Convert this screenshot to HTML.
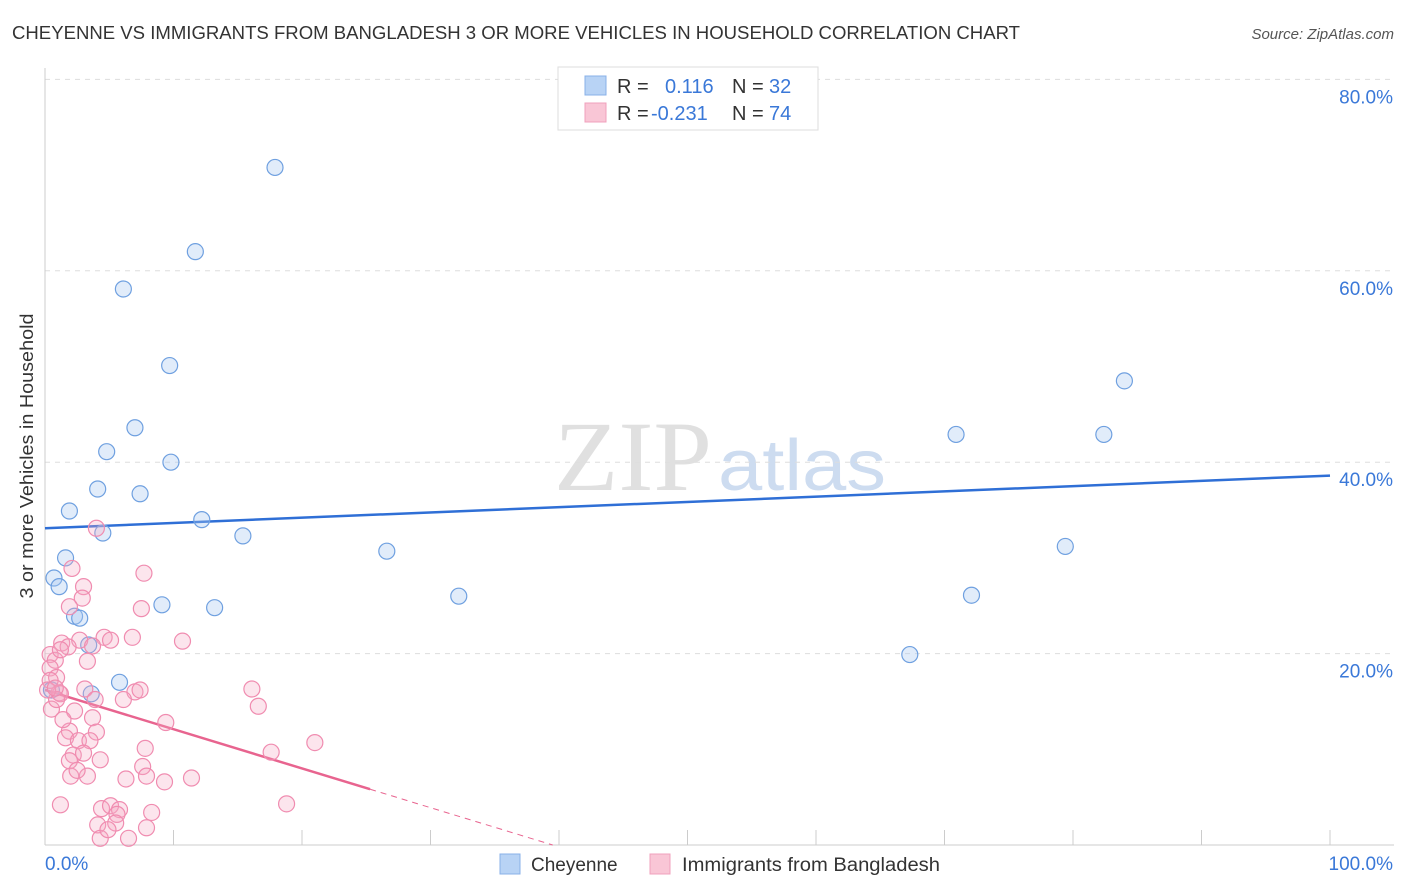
<!DOCTYPE html>
<html><head><meta charset="utf-8"><style>
body{margin:0;background:#fff;font-family:"Liberation Sans",sans-serif}
svg{display:block}
</style></head><body>
<svg id="c" width="1406" height="892" xmlns="http://www.w3.org/2000/svg">
<text x="12" y="39" font-size="18" fill="#333" textLength="1008" lengthAdjust="spacingAndGlyphs">CHEYENNE VS IMMIGRANTS FROM BANGLADESH 3 OR MORE VEHICLES IN HOUSEHOLD CORRELATION CHART</text>
<text x="1394" y="39" font-size="15" fill="#555" font-style="italic" text-anchor="end">Source: ZipAtlas.com</text>
<text x="0" y="0" transform="translate(33,456) rotate(-90)" font-size="18" fill="#333" text-anchor="middle" textLength="285" lengthAdjust="spacingAndGlyphs">3 or more Vehicles in Household</text>
<g><text x="633" y="490" font-size="100" fill="#e0e0e0" font-family="Liberation Serif,serif" text-anchor="middle" textLength="158" lengthAdjust="spacingAndGlyphs">ZIP</text><text x="802" y="490" font-size="72" fill="#cddcf0" text-anchor="middle" textLength="168" lengthAdjust="spacingAndGlyphs">atlas</text></g>
<g id="grid"></g><g id="axes"></g><g id="lines"></g><g id="pts"></g>
<g>
<rect x="558" y="67" width="260" height="63" fill="#fff" stroke="#ddd"/>
<rect x="585" y="76" width="21" height="19" fill="#b8d3f5" stroke="#88b0e8"/>
<rect x="585" y="103" width="21" height="19" fill="#f9c6d6" stroke="#f0a0bc"/>
<text x="617" y="93" font-size="20" fill="#333">R =</text><text x="665" y="93" font-size="20" fill="#3a78d8">0.116</text>
<text x="732" y="93" font-size="20" fill="#333">N =</text><text x="769" y="93" font-size="20" fill="#3a78d8">32</text>
<text x="617" y="120" font-size="20" fill="#333">R =</text><text x="651" y="120" font-size="20" fill="#3a78d8">-0.231</text>
<text x="732" y="120" font-size="20" fill="#333">N =</text><text x="769" y="120" font-size="20" fill="#3a78d8">74</text>
</g>
<g>
<rect x="500" y="854" width="20" height="20" fill="#b8d3f5" stroke="#88b0e8"/>
<text x="531" y="871" font-size="19" fill="#333">Cheyenne</text>
<rect x="650" y="854" width="20" height="20" fill="#f9c6d6" stroke="#f0a0bc"/>
<text x="682" y="871" font-size="19" fill="#333" textLength="258" lengthAdjust="spacingAndGlyphs">Immigrants from Bangladesh</text>
</g>
</svg>
<script>
const yTicks=[20,40,60,80];
const xTickLabels=["0.0%","100.0%"];
const blueX=[17.9,11.7,6.1,9.7,7.0,4.8,9.8,4.1,7.4,1.9,12.2,4.5,15.4,1.6,26.6,0.7,1.1,32.2,9.1,13.2,2.3,2.7,3.4,5.8,3.6,67.3,70.9,72.1,79.4,82.4,84.0,0.5];
const blueY=[70.8,62.0,58.1,50.1,43.6,41.1,40.0,37.2,36.7,34.9,34.0,32.6,32.3,30.0,30.7,27.9,27.0,26.0,25.1,24.8,23.9,23.7,20.9,17.0,15.8,19.9,42.9,26.1,31.2,42.9,48.5,16.2];
const pinkX=[4.0,2.1,7.7,3.0,2.9,1.9,7.5,1.3,4.6,6.8,10.7,2.7,1.8,3.7,0.4,0.8,3.3,0.4,0.9,0.4,3.1,1.1,1.2,16.1,7.0,0.5,6.1,16.6,2.3,3.7,9.4,1.9,4.0,1.6,2.6,3.5,7.8,17.6,21.0,2.2,3.0,1.9,4.3,7.6,2.0,3.3,6.3,7.9,9.3,11.4,1.2,4.4,5.1,5.8,5.6,8.3,18.8,4.1,5.5,7.9,4.3,6.5,0.9,0.2,0.8,1.2,5.1,2.5,7.4,1.4,3.9,4.9];
const pinkY=[33.1,28.9,28.4,27.0,25.8,24.9,24.7,21.1,21.7,21.7,21.3,21.4,20.7,20.8,19.9,19.3,19.2,18.5,17.5,17.2,16.3,15.9,15.8,16.3,16.0,14.2,15.2,14.5,14.0,13.3,12.8,11.9,11.8,11.2,10.9,10.9,10.1,9.7,10.7,9.4,9.6,8.8,8.9,8.2,7.2,7.2,6.9,7.2,6.6,7.0,4.2,3.8,4.1,3.7,3.2,3.4,4.3,2.1,2.3,1.8,0.7,0.7,15.2,16.2,16.4,20.4,21.4,7.8,16.2,13.1,15.2,1.6];
const blueLine=[33.1,38.6];
const pinkLine=[16.2,-0.41];
const X=v=>45+v*12.85, Y=v=>845-v*9.57;
const NS="http://www.w3.org/2000/svg";
function mk(t,a,p){const e=document.createElementNS(NS,t);for(const k in a)e.setAttribute(k,a[k]);p.appendChild(e);return e;}
const grid=document.getElementById('grid'),axes=document.getElementById('axes'),lines=document.getElementById('lines'),pts=document.getElementById('pts');
yTicks.forEach(t=>{
 const l=mk('line',{x1:45,x2:1394,y1:Y(t),y2:Y(t),stroke:'#ddd','stroke-dasharray':'5,5'},grid);
 
 
 const tx=mk('text',{x:1393,y:Y(t)+24,'font-size':19,fill:'#3a78d8','text-anchor':'end'},grid);
 tx.textContent=t.toFixed(1)+'%';
 
 
});
const ax=mk('line',{x1:45,x2:45,y1:68,y2:845,stroke:'#ccc'},axes);


const bx=mk('line',{x1:45,x2:1394,y1:845,y2:845,stroke:'#ccc'},axes);


for(let i=0;i<=10;i++){const t=mk('line',{x1:X(i*10),x2:X(i*10),y1:830,y2:845,stroke:'#ccc'},axes);
 
 }
const l0=mk('text',{x:45,y:870,'font-size':19,fill:'#3a78d8'},axes);l0.textContent=xTickLabels[0];


const l1=mk('text',{x:1393,y:870,'font-size':19,fill:'#3a78d8','text-anchor':'end'},axes);l1.textContent=xTickLabels[1];


blueX.forEach((x,i)=>{const c=mk('circle',{cx:X(x),cy:Y(blueY[i]),r:8,fill:'rgba(170,200,240,0.35)',stroke:'#6fa0e0','stroke-width':1.2},pts);
 
 });
pinkX.forEach((x,i)=>{const c=mk('circle',{cx:X(x),cy:Y(pinkY[i]),r:8,fill:'rgba(245,170,195,0.3)',stroke:'#f08cb0','stroke-width':1.2},pts);
 
 });
const bl=mk('line',{x1:X(0),y1:Y(blueLine[0]),x2:X(100),y2:Y(blueLine[1]),stroke:'#2f6fd6','stroke-width':2.5},lines);


const pf=x=>pinkLine[0]+pinkLine[1]*x, xz=-pinkLine[0]/pinkLine[1];
const pl=mk('line',{x1:X(0),y1:Y(pf(0)),x2:X(25.3),y2:Y(pf(25.3)),stroke:'#e8648f','stroke-width':2.5},lines);


const pd=mk('line',{x1:X(25.3),y1:Y(pf(25.3)),x2:X(xz),y2:Y(0),stroke:'#e8648f','stroke-width':1,'stroke-dasharray':'6,5'},lines);


</script>
</body></html>
